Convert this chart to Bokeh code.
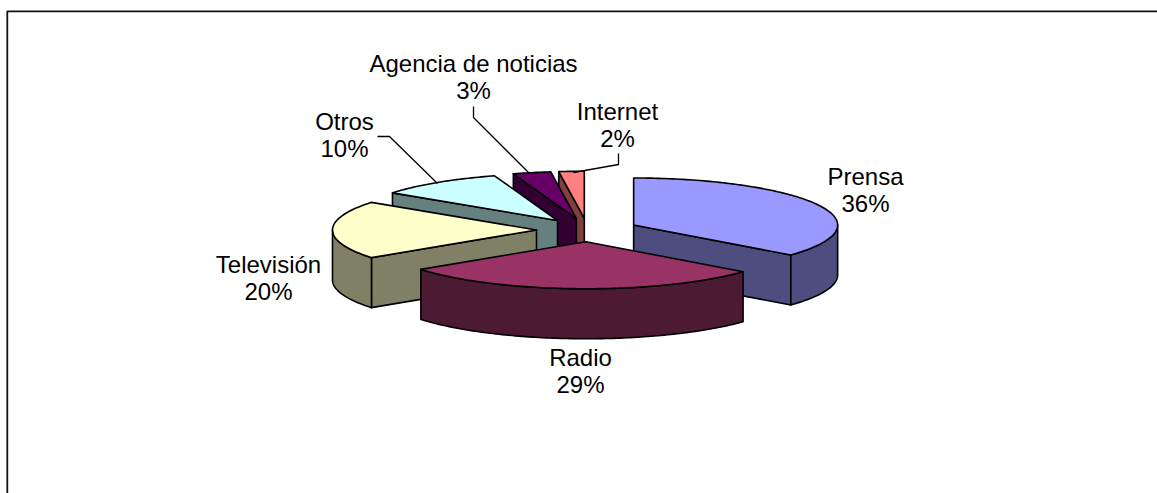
import numpy as np
from bokeh.plotting import figure
from bokeh.embed import file_html
from bokeh.resources import INLINE
from bokeh.core.properties import value

categories = ["Prensa", "Radio", "Televisión", "Otros", "Agencia de noticias", "Internet"]
shares = [36, 29, 20, 10, 3, 2]
top_colors = ["#9999FF", "#993366", "#FFFFCC", "#CCFFFF", "#660066", "#FF8080"]
side_colors = ["#4D4D80", "#4D1A33", "#808066", "#668080", "#330033", "#804040"]
draw_order = [5, 4, 3, 2, 0, 1]

label_x = [865, 580, 268, 344, 473, 617]
label_y = [176, 357, 264, 121, 63, 111]
LINE_GAP = 27
leaders = {
    "Otros": ([377, 389, 437], [136, 136, 183]),
    "Agencia de noticias": ([473, 473, 529], [106, 117, 173]),
    "Internet": ([618, 618, 573], [153, 164, 172]),
}

CX, CY, RX, RY, DEPTH, EXPLODE = 587, 229.5, 204, 47, 50, 0.25
W, H = 1157, 493
LEFT, TOP = 0, 0

p = figure(width=W, height=H, x_range=(LEFT, LEFT + W), y_range=(TOP + H, TOP),
           output_backend="svg", toolbar_location=None, min_border=0,
           margin=(0, -16, -16, 0), outline_line_color=None, background_fill_color="white",
           border_fill_color="white")
p.axis.visible = False
p.grid.visible = False

# sheet border: left and top edges only
p.line([6.8, 6.8, 1157], [493, 10.8, 10.8], line_color="#111111", line_width=1.8)


def rim(ax, ay, a0, a1):
    t = np.radians(np.linspace(a0, a1, max(int(a1 - a0) + 2, 2)))
    return ax + RX * np.sin(t), ay - RY * np.cos(t)


edges = np.cumsum([0] + shares) * 3.6
xs, ys, fills = [], [], []
for i in draw_order:
    a0, a1 = edges[i], edges[i + 1]
    mid = np.radians((a0 + a1) / 2)
    ax = CX + EXPLODE * RX * np.sin(mid)
    ay = CY - EXPLODE * RY * np.cos(mid)
    for ang, show in ((a0, np.sin(np.radians(a0)) < -1e-9), (a1, np.sin(np.radians(a1)) > 1e-9)):
        if show:
            ex, ey = rim(ax, ay, ang, ang)
            ex, ey = ex[0], ey[0]
            xs.append([ax, ex, ex, ax])
            ys.append([ay, ey, ey + DEPTH, ay + DEPTH])
            fills.append(side_colors[i])
    w0, w1 = max(a0, 90), min(a1, 270)
    if w1 > w0:
        wx, wy = rim(ax, ay, w0, w1)
        xs.append(list(wx) + list(wx[::-1]))
        ys.append(list(wy) + list((wy + DEPTH)[::-1]))
        fills.append(side_colors[i])
    tx, ty = rim(ax, ay, a0, a1)
    xs.append([ax] + list(tx))
    ys.append([ay] + list(ty))
    fills.append(top_colors[i])

p.patches(xs, ys, fill_color=fills, line_color="black", line_width=1.6, line_join="round")

for name, (lx, ly) in leaders.items():
    p.line(lx, ly, line_color="black", line_width=1.3)

font = value("Liberation Sans")
p.text(label_x, label_y, text=categories, text_font=font, text_font_size="24px",
       text_align="center", text_baseline="middle", text_color="black")
p.text(label_x, [y + LINE_GAP for y in label_y], text=[f"{s}%" for s in shares], text_font=font,
       text_font_size="24px", text_align="center", text_baseline="middle", text_color="black")

open("out.html", "w").write(file_html(p, INLINE))
